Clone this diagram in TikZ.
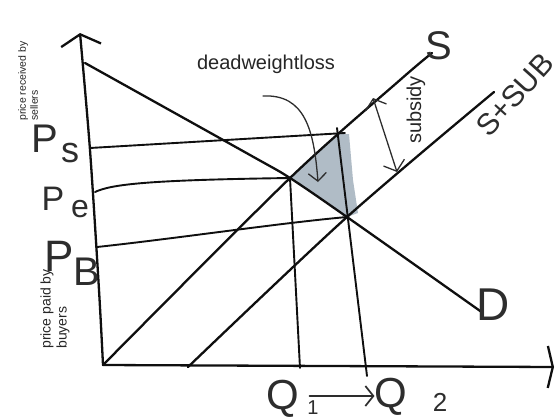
\documentclass[tikz,border=0pt]{standalone}
\usepackage{fontspec}
\setmainfont{Liberation Sans}
\usetikzlibrary{arrows.meta}
\definecolor{dwl}{RGB}{176,188,198}
\definecolor{ink}{RGB}{15,15,15}
\definecolor{pen}{RGB}{45,45,45}
\begin{document}
\begin{tikzpicture}[x=1pt,y=-1pt,
  curve/.style={line width=2.3pt, draw=ink, line cap=round, line join=round},
  guide/.style={line width=1.9pt, draw=ink, line cap=round, line join=round},
  thinarrow/.style={line width=1.3pt, draw=pen, line cap=round},
  hand/.style={text=pen, inner sep=0pt},
  note/.style={text=black!85, inner sep=0pt, align=left}]
\useasboundingbox (0,0) rectangle (560,418);

% key points
\coordinate (O) at (103,365);
\coordinate (Ytop) at (80,33);
\coordinate (Xend) at (554,367);
\coordinate (D0) at (85,63);
\coordinate (D1) at (250,155);
\coordinate (E) at (290,178);
\coordinate (E2) at (347,217);
\coordinate (D2) at (483,313);
\coordinate (S1) at (400,80);
\coordinate (Stop) at (432,53);
\coordinate (T0) at (188,367);
\coordinate (Ttop) at (494,92);
\coordinate (PsL) at (90,148);
\coordinate (PsR) at (345,133);
\coordinate (PeL) at (95,192);
\coordinate (PBL) at (97,247);
\coordinate (Q1b) at (300,368);
\coordinate (Q2t) at (337,128);
\coordinate (Q2b) at (367,376);
\coordinate (ArrA) at (263,96);
\coordinate (ArrB) at (318,182);
\coordinate (SubA) at (373,98);
\coordinate (SubB) at (397,172);

% deadweight loss area
\fill[dwl] (E) -- (310,158) -- (330,140) -- (340,134) -- (349,134) -- (353,180) -- (358,213) -- (E2) -- cycle;

% axes
\draw[curve, -{Straight Barb[length=11pt,width=40pt]}] plot[smooth] coordinates {(O) (99,290) (90,150) (Ytop)};
\draw[curve, -{Straight Barb[length=5pt,width=42pt]}] (O) -- (Xend);

% demand and supply curves
\draw[curve] plot[smooth] coordinates {(D0) (D1) (E) (E2) (D2)};
\draw[curve] plot[smooth] coordinates {(O) (E) (S1) (Stop)};
\draw[curve] plot[smooth] coordinates {(T0) (E2) (Ttop)};

% price and quantity guides
\draw[guide] (PsL) -- (PsR);
\draw[guide] (PeL) .. controls (112,184) and (150,180) .. (E);
\draw[guide] (PBL) .. controls (180,238) and (280,223) .. (E2);
\draw[guide] (E) -- (Q1b);
\draw[guide] (Q2t) -- (Q2b);

% arrows
\draw[thinarrow, -{Straight Barb[length=8pt,width=18pt]}] (ArrA) .. controls (305,94) and (314,130) .. (ArrB);
\draw[thinarrow, {Straight Barb[length=9pt,width=22pt]}-{Straight Barb[length=9pt,width=22pt]}] (SubA) -- (SubB);

% typed labels
\node[note, font=\fontsize{20}{22}\selectfont] (dwlt) at (266,64) {deadweightloss};
\node[note, rotate=90, font=\fontsize{20}{22}\selectfont] (subt) at (416,110) {subsidy};
\node[note, rotate=90, font=\fontsize{10.5}{12}\selectfont] (recv) at (28,81) {price received by\\sellers};
\node[note, rotate=90, font=\fontsize{14}{16}\selectfont] (paid) at (55,309) {price paid by\\buyers};

% handwritten labels
\node[hand, font=\fontsize{40}{40}\selectfont] (Ps) at (45,139) {P};
\node[hand, font=\fontsize{36}{36}\selectfont] (Pss) at (70,153) {s};
\node[hand, font=\fontsize{34}{34}\selectfont] (Pe) at (53,199) {P};
\node[hand, font=\fontsize{32}{32}\selectfont] (Pes) at (80,209) {e};
\node[hand, font=\fontsize{44}{44}\selectfont] (PB) at (59,256) {P};
\node[hand, font=\fontsize{40}{40}\selectfont] (PBs) at (87,272) {B};
\node[hand, font=\fontsize{40}{40}\selectfont] (Slab) at (439,46) {S};
\node[hand, rotate=48, font=\fontsize{30}{30}\selectfont] (SSlab) at (515,95) {S+SUB};
\node[hand, font=\fontsize{46}{46}\selectfont] (Dlab) at (493,305) {D};
\node[hand, font=\fontsize{42}{42}\selectfont] (Q1) at (283,399) {Q};
\node[hand, font=\fontsize{20}{20}\selectfont] (Q1s) at (313,408) {1};
\node[hand, font=\fontsize{42}{42}\selectfont] (Q2) at (391,397) {Q};
\node[hand, font=\fontsize{26}{26}\selectfont] (Q2s) at (440,402) {2};
\draw[thinarrow, line width=1.7pt, -{Straight Barb[length=8pt,width=20pt]}] (Q1.east) ++(10,-3) coordinate (QA) (QA) -- (Q2.west |- QA);
\end{tikzpicture}
\end{document}
